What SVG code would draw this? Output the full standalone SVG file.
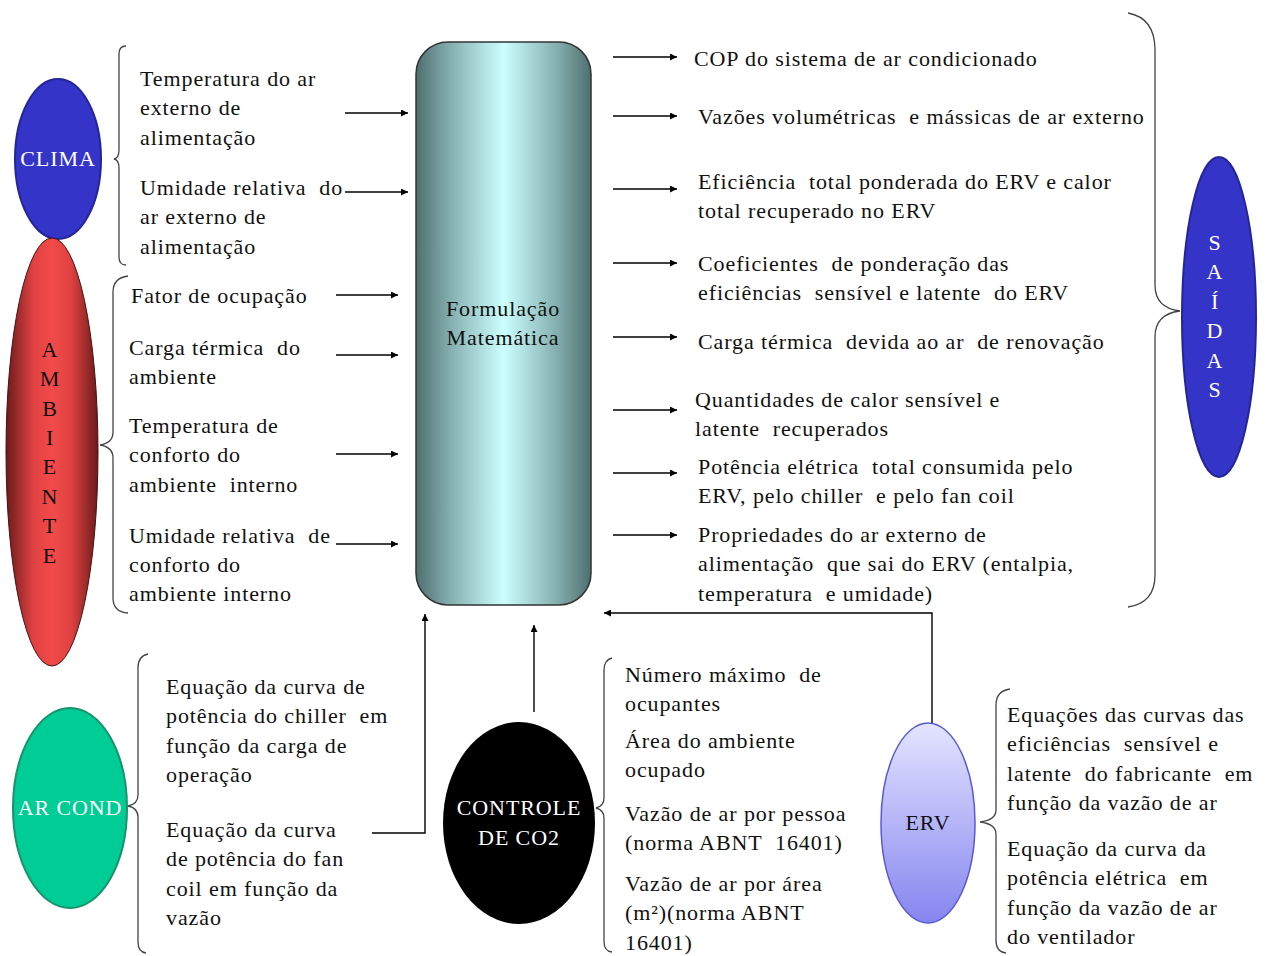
<svg xmlns="http://www.w3.org/2000/svg" width="1266" height="956" viewBox="0 0 1266 956">
<defs>
<linearGradient id="gBox" x1="0" y1="0" x2="1" y2="0">
<stop offset="0" stop-color="#4f6f6f"/>
<stop offset="0.2" stop-color="#86b0b0"/>
<stop offset="0.5" stop-color="#ccffff"/>
<stop offset="0.8" stop-color="#86b0b0"/>
<stop offset="1" stop-color="#4f6f6f"/>
</linearGradient>
<linearGradient id="gRed" x1="0" y1="0" x2="1" y2="0">
<stop offset="0" stop-color="#6a1a1a"/>
<stop offset="0.3" stop-color="#e24242"/>
<stop offset="0.5" stop-color="#f24a4a"/>
<stop offset="0.7" stop-color="#e24242"/>
<stop offset="1" stop-color="#6a1a1a"/>
</linearGradient>
<linearGradient id="gErv" x1="0" y1="0" x2="0" y2="1">
<stop offset="0" stop-color="#e4e4ff"/>
<stop offset="1" stop-color="#8585f0"/>
</linearGradient>
<marker id="ah" viewBox="0 0 10 10" refX="10" refY="5" markerWidth="10" markerHeight="7" markerUnits="userSpaceOnUse" orient="auto">
<path d="M0,0 L10,5 L0,10 z" fill="#000"/>
</marker>
<style>
text{font-family:"Liberation Serif","Times New Roman",serif;font-size:22px;fill:#111;letter-spacing:0.9px;white-space:pre}
.w{fill:#fff}
.c{text-anchor:middle}
.br{fill:none;stroke:#444;stroke-width:1.3}
.ar{fill:none;stroke:#000;stroke-width:1.4;marker-end:url(#ah)}
</style>
</defs>
<rect width="1266" height="956" fill="#fff"/>
<g id="formulacao">
<rect x="416" y="42" width="175" height="563" rx="32" fill="url(#gBox)" stroke="#333" stroke-width="1.5"/>
<text class="c" x="503" y="316">Formulação</text>
<text class="c" x="503" y="345">Matemática</text>
</g>
<g id="clima">
<ellipse cx="58" cy="159" rx="43" ry="80" fill="#3434c8" stroke="#25259a" stroke-width="2"/>
<text class="w c" x="58" y="166">CLIMA</text>
<path class="br" d="M126,46 Q119,46 119,54 L119,150 Q119,158 114,159 Q119,160 119,168 L119,257 Q119,265 126,265"/>
<text x="140" y="86">Temperatura do ar</text>
<text x="140" y="115">externo de</text>
<text x="140" y="145">alimentação</text>
<text x="140" y="195">Umidade relativa  do</text>
<text x="140" y="224">ar externo de</text>
<text x="140" y="254">alimentação</text>
</g>
<g id="ambiente">
<ellipse cx="52" cy="452" rx="46" ry="214" fill="url(#gRed)" stroke="#4a1010" stroke-width="1"/>
<text class="c" x="50" y="357">A</text>
<text class="c" x="50" y="386">M</text>
<text class="c" x="50" y="416">B</text>
<text class="c" x="50" y="445">I</text>
<text class="c" x="50" y="474">E</text>
<text class="c" x="50" y="504">N</text>
<text class="c" x="50" y="533">T</text>
<text class="c" x="50" y="563">E</text>
<path class="br" d="M128,276 Q113,278 113,292 L113,432 Q113,443 100,445 Q113,447 113,458 L113,598 Q113,612 128,613"/>
<text x="131" y="303">Fator de ocupação</text>
<text x="129" y="355">Carga térmica  do</text>
<text x="129" y="384">ambiente</text>
<text x="129" y="433">Temperatura de</text>
<text x="129" y="462">conforto do</text>
<text x="129" y="492">ambiente  interno</text>
<text x="129" y="543">Umidade relativa  de</text>
<text x="129" y="572">conforto do</text>
<text x="129" y="601">ambiente interno</text>
</g>
<g id="arcond">
<ellipse cx="70" cy="808" rx="57" ry="100" fill="#00cc96" stroke="#18946c" stroke-width="2"/>
<text class="w c" x="70" y="815">AR COND</text>
<path class="br" d="M148,654 Q138,656 138,668 L138,795 Q138,804 128,806 Q138,808 138,817 L138,942 Q138,952 146,953"/>
<text x="166" y="694">Equação da curva de</text>
<text x="166" y="723">potência do chiller  em</text>
<text x="166" y="753">função da carga de</text>
<text x="166" y="782">operação</text>
<text x="166" y="837">Equação da curva</text>
<text x="166" y="866">de potência do fan</text>
<text x="166" y="896">coil em função da</text>
<text x="166" y="925">vazão</text>
</g>
<g id="controle">
<ellipse cx="519" cy="823" rx="76" ry="101" fill="#000"/>
<text class="w c" x="519" y="815">CONTROLE</text>
<text class="w c" x="519" y="845">DE CO2</text>
<path class="br" d="M612,658 Q604,660 604,670 L604,798 Q604,806 596,808 Q604,810 604,818 L604,942 Q604,951 612,952"/>
<text x="625" y="682">Número máximo  de</text>
<text x="625" y="711">ocupantes</text>
<text x="625" y="748">Área do ambiente</text>
<text x="625" y="777">ocupado</text>
<text x="625" y="821">Vazão de ar por pessoa</text>
<text x="625" y="850">(norma ABNT  16401)</text>
<text x="625" y="891">Vazão de ar por área</text>
<text x="625" y="920">(m²)(norma ABNT</text>
<text x="625" y="950">16401)</text>
</g>
<g id="erv">
<ellipse cx="928" cy="823" rx="47" ry="100" fill="url(#gErv)" stroke="#5a5ad0" stroke-width="1.5"/>
<text class="c" x="928" y="830">ERV</text>
<path class="br" d="M1010,689 Q996,691 996,705 L996,810 Q996,820 980,822 Q996,824 996,834 L996,940 Q996,952 1006,953"/>
<text x="1007" y="722">Equações das curvas das</text>
<text x="1007" y="751">eficiências  sensível e</text>
<text x="1007" y="781">latente  do fabricante  em</text>
<text x="1007" y="810">função da vazão de ar</text>
<text x="1007" y="856">Equação da curva da</text>
<text x="1007" y="885">potência elétrica  em</text>
<text x="1007" y="915">função da vazão de ar</text>
<text x="1007" y="944">do ventilador</text>
</g>
<g id="saidas">
<ellipse cx="1219" cy="317" rx="37" ry="160" fill="#3434c8" stroke="#25259a" stroke-width="2"/>
<text class="w c" x="1215" y="250">S</text>
<text class="w c" x="1215" y="279">A</text>
<text class="w c" x="1215" y="309">Í</text>
<text class="w c" x="1215" y="338">D</text>
<text class="w c" x="1215" y="368">A</text>
<text class="w c" x="1215" y="397">S</text>
<path class="br" d="M1128,13 Q1155,18 1155,50 L1155,285 Q1155,308 1180,311 Q1155,314 1155,337 L1155,575 Q1155,603 1128,607"/>
<text x="694" y="66">COP do sistema de ar condicionado</text>
<text x="698" y="124">Vazões volumétricas  e mássicas de ar externo</text>
<text x="698" y="189">Eficiência  total ponderada do ERV e calor</text>
<text x="698" y="218">total recuperado no ERV</text>
<text x="698" y="271">Coeficientes  de ponderação das</text>
<text x="698" y="300">eficiências  sensível e latente  do ERV</text>
<text x="698" y="349">Carga térmica  devida ao ar  de renovação</text>
<text x="695" y="407">Quantidades de calor sensível e</text>
<text x="695" y="436">latente  recuperados</text>
<text x="698" y="474">Potência elétrica  total consumida pelo</text>
<text x="698" y="503">ERV, pelo chiller  e pelo fan coil</text>
<text x="698" y="542">Propriedades do ar externo de</text>
<text x="698" y="571">alimentação  que sai do ERV (entalpia,</text>
<text x="698" y="601">temperatura  e umidade)</text>
</g>
<g id="connectors">
<line class="ar" x1="345" y1="113" x2="408" y2="113"/>
<line class="ar" x1="345" y1="192" x2="408" y2="192"/>
<line class="ar" x1="336" y1="295" x2="398" y2="295"/>
<line class="ar" x1="336" y1="355" x2="398" y2="355"/>
<line class="ar" x1="336" y1="454" x2="398" y2="454"/>
<line class="ar" x1="336" y1="544" x2="398" y2="544"/>
<line class="ar" x1="613" y1="57" x2="677" y2="57"/>
<line class="ar" x1="613" y1="116" x2="677" y2="116"/>
<line class="ar" x1="613" y1="189" x2="677" y2="189"/>
<line class="ar" x1="613" y1="263" x2="677" y2="263"/>
<line class="ar" x1="613" y1="337" x2="677" y2="337"/>
<line class="ar" x1="613" y1="410" x2="677" y2="410"/>
<line class="ar" x1="613" y1="473" x2="677" y2="473"/>
<line class="ar" x1="613" y1="535" x2="677" y2="535"/>
<polyline class="ar" points="372,833 425,833 425,614"/>
<line class="ar" x1="534" y1="712" x2="534" y2="625"/>
<polyline class="ar" points="932,723 932,613 604,613"/>
</g>
</svg>
